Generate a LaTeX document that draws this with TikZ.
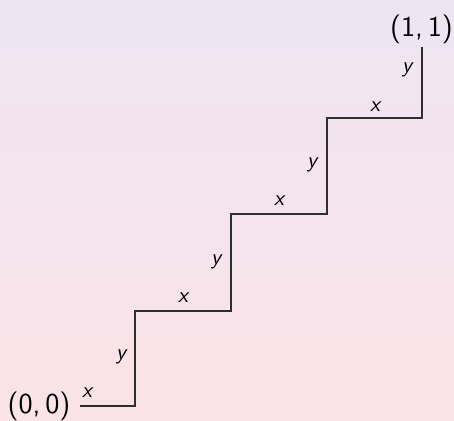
\documentclass[tikz,border=0pt]{standalone}
\usepackage{tikz}
\usetikzlibrary{positioning}
\definecolor{BgTop}{HTML}{EEE5F3}
\definecolor{BgBot}{HTML}{FBE3E7}
\definecolor{StairInk}{HTML}{2E2E2E}

\begin{document}
\begin{tikzpicture}[x=0.5pt, y=0.5pt, font=\sffamily,
  stair/.style={draw=StairInk, line width=0.55pt},
  steplbl/.style={font=\sffamily\itshape\fontsize{11}{13}\selectfont, inner sep=1pt},
  endlbl/.style={font=\sffamily\Large, inner sep=1pt}]
\shade[top color=BgTop, bottom color=BgBot] (0,0) rectangle (454,421);
\useasboundingbox (0,0) rectangle (454,421);
% corners of the staircase
\coordinate (p0) at (80,15);
\coordinate (p1) at (135,15);
\coordinate (p2) at (135,110);
\coordinate (p3) at (231,110);
\coordinate (p4) at (231,207);
\coordinate (p5) at (327,207);
\coordinate (p6) at (327,303);
\coordinate (p7) at (422,303);
\coordinate (p8) at (422,374);
\draw[stair] (p0) -- (p1) -- (p2) -- (p3) -- (p4) -- (p5) -- (p6) -- (p7) -- (p8);
% end points
\node[endlbl] (orig) at (39,15) {(0,\,0)};
\node[endlbl] (dest) at (421.5,392) {(1,\,1)};
% step labels
\node[steplbl] (x1) at (87,28) {x};
\node[steplbl] (y1) at (121,64) {y};
\node[steplbl] (x2) at (183,123.5) {x};
\node[steplbl] (y2) at (216,159) {y};
\node[steplbl] (x3) at (279,220) {x};
\node[steplbl] (y3) at (312,256) {y};
\node[steplbl] (x4) at (375,314) {x};
\node[steplbl] (y4) at (407,351) {y};
\end{tikzpicture}
\end{document}
